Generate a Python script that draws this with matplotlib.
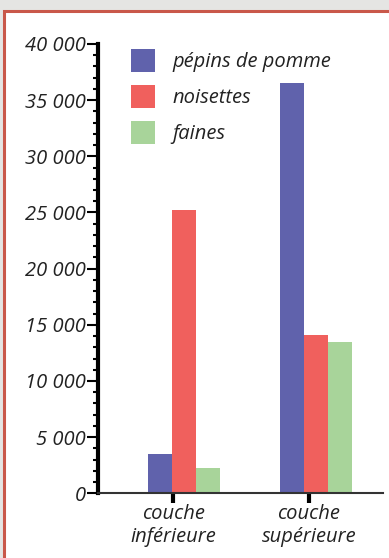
import numpy as np
import matplotlib
matplotlib.use('Agg')
import matplotlib.pyplot as plt
from matplotlib.patches import Rectangle, Patch
from matplotlib.ticker import MultipleLocator, FuncFormatter

# ============================================================
# DATA
# ============================================================
layers = ["couche\ninférieure", "couche\nsupérieure"]
series = ["pépins de pomme", "noisettes", "faines"]
pepins = [3500, 36500]
noisettes = [25200, 14100]
faines = [2250, 13500]
colors = ["#6062ac", "#f0605d", "#a8d49a"]

FONT = "Open Sans"
TEXT = "#222222"
FS = 14.5

plt.rcParams['font.family'] = [FONT, 'DejaVu Sans']
plt.rcParams['font.style'] = 'italic'

fig = plt.figure(figsize=(3.89, 5.58), dpi=100, facecolor="#e5e5e3")

# white panel with red frame
fig.add_artist(Rectangle((4 / 389, -0.05), 1.1, (558 - 11) / 558 + 0.05,
                         transform=fig.transFigure, facecolor="white",
                         edgecolor="#c9584a", linewidth=2.2, zorder=0))

ax = fig.add_axes([98 / 389, 64.7 / 558, 285 / 389, 449.3 / 558])
ax.set_facecolor("none")

x = np.arange(len(layers))
w = 24 / 132
for i, (vals, c) in enumerate(zip([pepins, noisettes, faines], colors)):
    ax.bar(x + (i - 1) * w, vals, width=w, color=c, label=series[i], zorder=2)

ax.set_xlim(-0.6515, 1.5076)
ax.set_ylim(0, 40000)

ax.yaxis.set_major_locator(MultipleLocator(5000))
ax.yaxis.set_minor_locator(MultipleLocator(1000))
ax.yaxis.set_major_formatter(FuncFormatter(lambda v, p: f"{int(v):,}".replace(",", " ")))
ax.tick_params(axis='y', which='major', length=8, width=1.5, pad=1,
               labelsize=FS, labelcolor=TEXT, color="black")
ax.tick_params(axis='y', which='minor', length=3.5, width=1.5, color="black")

ax.set_xticks(x + np.array([-0.08, -0.055]))
ax.set_xticklabels(layers, fontsize=FS, color=TEXT, linespacing=1.2, style='italic')
ax.tick_params(axis='x', length=7, width=3, color="black", pad=1)

ax.spines['top'].set_visible(False)
ax.spines['right'].set_visible(False)
ax.spines['left'].set_linewidth(3)
ax.spines['left'].set_color("black")
ax.spines['bottom'].set_linewidth(1.5)
ax.spines['bottom'].set_color("#333333")

handles = [Patch(facecolor=c, edgecolor='none') for c in colors]
leg = ax.legend(handles, series, loc='upper left', bbox_to_anchor=(0.08, 1.012),
                frameon=False, prop={'size': FS, 'style': 'italic'},
                handlelength=1.2, handleheight=1.4,
                handletextpad=0.85, labelspacing=0.64, borderaxespad=0.1)
for t in leg.get_texts():
    t.set_color(TEXT)

plt.savefig("out.png", dpi=100, facecolor=fig.get_facecolor())
